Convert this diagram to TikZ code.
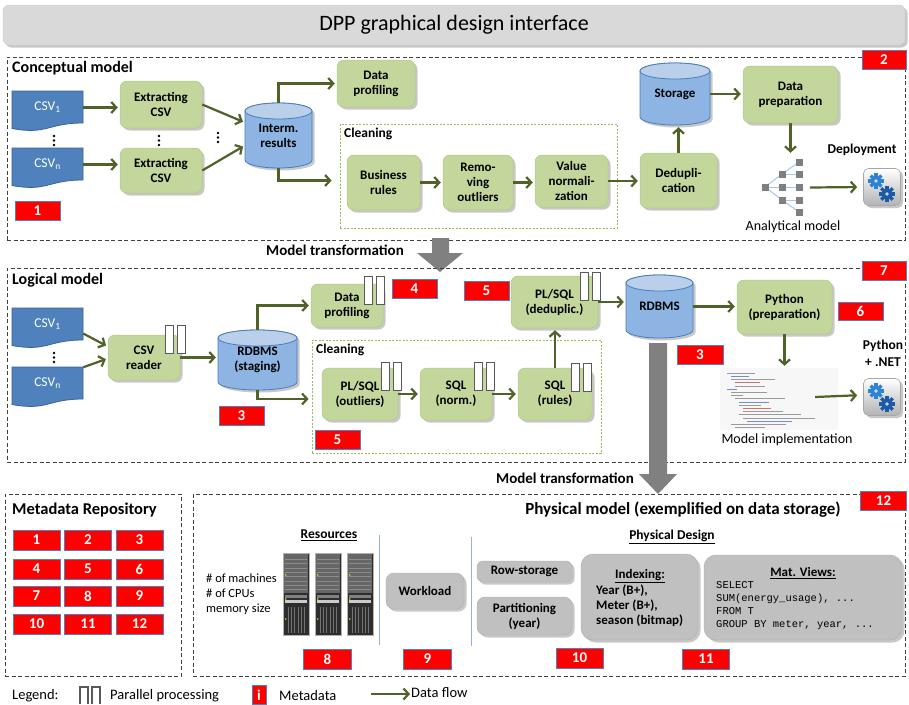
\documentclass[tikz,border=0pt]{standalone}
\usepackage{fontspec}
\setmainfont{Carlito}
\setmonofont{Liberation Mono}
\usetikzlibrary{arrows.meta,shadows,calc}

\definecolor{boxgreen}{HTML}{C3D69B}
\definecolor{boxgreenline}{HTML}{B2C886}
\definecolor{flowgreen}{HTML}{4F6228}
\definecolor{cylbody}{HTML}{8DB4E2}
\definecolor{cyltopc}{HTML}{B9CFEA}
\definecolor{cylline}{HTML}{4A7EBB}
\definecolor{docblue}{HTML}{4F81BD}
\definecolor{docline}{HTML}{3A6496}
\definecolor{tagline}{HTML}{4F81BD}
\definecolor{physgray}{HTML}{C0C0C0}
\definecolor{titlegray}{HTML}{D9D9D9}
\definecolor{framegray}{HTML}{404040}
\definecolor{cleangreen}{HTML}{9BBB59}
\definecolor{bigarrow}{HTML}{808080}
\definecolor{sepblue}{HTML}{95B3D7}
\definecolor{gearlight}{HTML}{2C83D3}
\definecolor{geardark}{HTML}{1B5AA6}
\definecolor{treeline}{HTML}{A6C8E8}
\definecolor{treesq}{HTML}{7F7F7F}
\definecolor{codegray}{HTML}{9A9A9A}
\definecolor{codeblue}{HTML}{6E8FC8}
\definecolor{codered}{HTML}{D07070}

\newcommand\fsz[2]{\fontsize{#1}{#2}\selectfont}

\tikzset{
  softshadow/.style={drop shadow={shadow xshift=2.5pt,shadow yshift=-2.5pt,opacity=0.3,fill=black!70}},
  gbox/.style={rectangle,rounded corners=7pt,fill=boxgreen,draw=boxgreenline,line width=0.5pt,
    align=center,inner sep=1pt,font=\fsz{13}{15}\bfseries,softshadow},
  graybox/.style={rectangle,rounded corners=8pt,fill=physgray,draw=physgray!90!black,line width=0.4pt,
    align=center,inner sep=1pt,font=\fsz{13}{15}\bfseries,softshadow},
  metatag/.style={rectangle,fill=red,draw=tagline,line width=0.8pt,minimum width=45pt,minimum height=19pt,
    inner sep=0pt,text=white,font=\fsz{15}{15}\bfseries},
  flowarrow/.style={draw=flowgreen,line width=2.2pt,shorten >=2pt,-{Straight Barb[length=5pt,width=11pt]}},
  sectionframe/.style={draw=framegray,line width=1pt,dash pattern=on 4pt off 2.5pt,inner sep=0pt},
  cleanframe/.style={draw=cleangreen,line width=0.9pt,dash pattern=on 2pt off 1.5pt,inner sep=0pt},
  lbl/.style={inner sep=0pt,anchor=west,font=\fsz{16}{18}\bfseries},
  cylshape/.style={fill=cylbody,draw=cylline,line width=0.8pt},
  cyltop/.style={fill=cyltopc,draw=cylline,line width=0.8pt},
  cyltext/.style={align=center,inner sep=0pt,font=\fsz{13}{15}\bfseries},
  docshape/.style={fill=docblue,draw=docline,line width=0.8pt},
  doctext/.style={inner sep=0pt,text=white,font=\fsz{13.5}{15}},
  parbar/.style={rectangle,fill=white,draw=black!65,line width=1.2pt,minimum width=8pt,minimum height=28pt,
    inner sep=0pt,anchor=north west},
  plain/.style={inner sep=0pt,font=\fsz{12.5}{15}},
  dot/.style={circle,fill=black,inner sep=0pt,minimum size=2.6pt},
  gearbox/.style={rectangle,rounded corners=5pt,minimum width=37pt,minimum height=37pt,top color=white,
    bottom color=black!30,draw=black!35,line width=0.6pt},
}

% database cylinder: name, cx, cy, width, height, half width, text
\newcommand\dbcyl[7]{%
  \coordinate (#1-c) at (#2,#3);
  \path[cylshape,softshadow] ($(#1-c)+(-#6,-#5/2+8)$) -- ($(#1-c)+(-#6,#5/2-8)$)
    arc[start angle=180,end angle=360,x radius=#6pt,y radius=8pt]
    -- ($(#1-c)+(#6,-#5/2+8)$)
    arc[start angle=0,end angle=180,x radius=#6pt,y radius=8pt] -- cycle;
  \path[cyltop] ($(#1-c)+(0,-#5/2+8)$) ellipse[x radius=#6pt,y radius=8pt];
  \node[cyltext,minimum width=#4pt,minimum height=#5pt] (#1) at (#1-c) {#7};
}

% document shape with wavy bottom: name, left x, top y, text
\newcommand\csvdoc[4]{%
  \path[docshape] (#2,#3) -- (#2+71,#3) -- (#2+71,#3+32)
    .. controls (#2+35.5,#3+32) and (#2+35.5,#3+44) .. (#2,#3+37.5) -- cycle;
  \node[doctext,minimum width=71pt,minimum height=32pt] (#1) at (#2+35.5,#3+16.5) {#4};
}

% vertical ellipsis of three dots: name, x, top y
\newcommand\vdotsmark[3]{%
  \node[dot] (#1a) at (#2,#3) {};
  \node[dot] (#1b) at (#2,#3+4.5) {};
  \node[dot] (#1c) at (#2,#3+9) {};
}

% two bars marking parallel processing: name, left x, top y
\newcommand\parbars[3]{%
  \node[parbar] (#1a) at (#2,#3) {};
  \node[parbar] (#1b) at (#2+12,#3) {};
}

% one gear wheel: cx, cy, radius, colour
\newcommand\gearwheel[4]{%
  \foreach \ang in {0,45,...,315}
    \fill[#4,rotate around={\ang:(#1,#2)}] ($(#1,#2)+(-1.7,-#3-2.6)$) rectangle ($(#1,#2)+(1.7,0)$);
  \fill[#4] (#1,#2) circle[radius=#3pt];
  \fill[white!75!#4] (#1,#2) circle[radius=1.8pt];
}

% deployment icon: name, cx, cy
\newcommand\gearicon[3]{%
  \node[gearbox,softshadow] (#1) at (#2,#3) {};
  \gearwheel{#2-6}{#3-6}{5}{gearlight}
  \gearwheel{#2+5}{#3+7}{5.5}{geardark}
}

% server tower: left x, top y
\newcommand\tower[2]{%
  \fill[black!82] (#1,#2) rectangle (#1+26,#2+82);
  \fill[black!60] (#1+1,#2+1) rectangle (#1+25,#2+40);
  \foreach \k in {1,...,8}
    \draw[black!45,line width=0.5pt] (#1+2,#2+2+\k*4.3) -- (#1+24,#2+2+\k*4.3);
  \fill[black!20] (#1+2,#2+47) rectangle (#1+24,#2+50);
  \fill[black!50] (#1+2,#2+42) rectangle (#1+24,#2+45);
  \foreach \k in {1,...,6}
    \draw[black!55,line width=0.5pt] (#1+2+\k*3.2,#2+54) -- (#1+2+\k*3.2,#2+80);
  \fill[yellow!80!green] (#1+2.8,#2+22) circle[radius=0.9pt];
  \fill[yellow!80!green] (#1+2.8,#2+46) circle[radius=0.9pt];
  \fill[yellow!80!green] (#1+2.8,#2+66) circle[radius=0.9pt];
  \draw[black!30,line width=0.8pt] (#1,#2) rectangle (#1+26,#2+82);
}

\begin{document}
\begin{tikzpicture}[x=1pt,y=-1pt]
\useasboundingbox (0,0) rectangle (909,704);
\fill[white] (0,0) rectangle (909,704);

% ---------------- title bar ----------------
\node[rectangle,rounded corners=6pt,fill=titlegray,draw=black!20,minimum width=902pt,minimum height=40pt,
  softshadow,font=\fsz{22}{24}] (title) at (454,25) {DPP graphical design interface};

% ---------------- conceptual model ----------------
\node[sectionframe,minimum width=898pt,minimum height=183pt] (concept) at (456,148.5) {};
\node[lbl] (conlbl) at (12,68) {Conceptual model};
\node[metatag,minimum width=44pt] (m2) at (884,60) {2};

\csvdoc{csvA}{12}{91}{CSV\textsubscript{1}}
\csvdoc{csvB}{12}{148}{CSV\textsubscript{n}}
\node[gbox,minimum width=82pt,minimum height=47pt] (ex1) at (161,104.5) {Extracting\\CSV};
\node[gbox,minimum width=82pt,minimum height=45pt] (ex2) at (161,170.5) {Extracting\\CSV};
\vdotsmark{dotsA}{54}{136}
\vdotsmark{dotsB}{159}{136}
\vdotsmark{dotsC}{218}{133}
\dbcyl{interm}{278.5}{135.5}{67}{65}{33.5}{Interm.\\results}
\node[gbox,minimum width=78pt,minimum height=47pt] (prof1) at (376,83.5) {Data\\profiling};

\node[cleanframe,minimum width=277pt,minimum height=104pt] (clean1) at (478.5,176) {};
\node[lbl,font=\fsz{13.5}{15}\bfseries] (cl1lbl) at (344,134) {Cleaning};
\node[gbox,minimum width=73pt,minimum height=55pt] (br) at (383.5,182.5) {Business\\rules};
\node[gbox,minimum width=70pt,minimum height=55pt] (ro) at (478,182.5) {Remo-\\ving\\outliers};
\node[gbox,minimum width=73pt,minimum height=52pt] (vn) at (571.5,181) {Value\\normali-\\zation};
\node[gbox,minimum width=77pt,minimum height=55pt] (dedup) at (678.5,180.5) {Dedupli-\\cation};
\dbcyl{storage}{675}{94}{70}{62}{35}{Storage}
\node[gbox,minimum width=95pt,minimum height=57pt] (dprep) at (790.5,94.5) {Data\\preparation};

% analytical model tree
\node[minimum width=48pt,minimum height=65pt,inner sep=0pt] (anmodel) at (784,187.5) {};
\foreach \yy in {174,187,200} \draw[treeline,line width=1pt] (765,187) -- (782,\yy);
\foreach \ya/\yb in {174/162,174/174,187/187,200/200,200/212} \draw[treeline,line width=1pt] (782,\ya) -- (799,\yb);
\foreach \xx/\yy in {765/187,782/174,782/187,782/200,799/162,799/174,799/187,799/200,799/212}
  \fill[treesq] (\xx-3.5,\yy-3.5) rectangle (\xx+3.5,\yy+3.5);
\node[plain,font=\fsz{14}{16}] (anlbl) at (793,227) {Analytical model};
\node[plain,font=\fsz{13.5}{16}\bfseries] (deplbl) at (862,150) {Deployment};
\gearicon{gearA}{882}{187}

\node[metatag] (m1) at (37.5,211) {1};

% conceptual flows
\draw[flowarrow] (csvA.east) -- (csvA.east -| ex1.west);
\draw[flowarrow] (csvB.east) -- (csvB.east -| ex2.west);
\draw[flowarrow] (ex1.east) -- ($(interm.west)+(0,-13)$);
\draw[flowarrow] (ex2.east) -- ($(interm.west)+(0,10)$);
\draw[flowarrow] (interm.north) |- (prof1.west);
\draw[flowarrow] (interm.south) |- ($(clean1.west |- br.west)+(-6,-2)$);
\draw[flowarrow] (br.east) -- (ro.west);
\draw[flowarrow] (ro.east) -- (ro.east -| vn.west);
\draw[flowarrow] (vn.east) -- (vn.east -| dedup.west);
\draw[flowarrow] (dedup.north) -- (dedup.north |- storage.south);
\draw[flowarrow] (storage.east) -- (storage.east -| dprep.west);
\draw[flowarrow] (dprep.south) -- (dprep.south |- anmodel.north);
\draw[flowarrow,shorten >=6pt] ($(anmodel.east)+(2,0)$) -- (gearA.west);

% ---------------- first model transformation ----------------
\fill[bigarrow] (432,238) -- (449,238) -- (449,253) -- (463,253) -- (440,272) -- (417,253) -- (432,253) -- cycle;
\node[plain,font=\fsz{15}{16}\bfseries] (mt1) at (335,250) {Model transformation};

% ---------------- logical model ----------------
\node[sectionframe,minimum width=898pt,minimum height=194pt] (logical) at (456,365) {};
\node[lbl] (loglbl) at (12,280) {Logical model};
\node[metatag,minimum width=44pt] (m7) at (884,271) {7};

\csvdoc{csvC}{12}{308}{CSV\textsubscript{1}}
\csvdoc{csvD}{12}{367}{CSV\textsubscript{n}}
\vdotsmark{dotsD}{54}{353}
\node[gbox,minimum width=72pt,minimum height=45pt] (reader) at (144,357.5) {CSV\\reader};
\parbars{pReader}{165}{325}
\dbcyl{staging}{257.5}{360}{79}{60}{39.5}{RDBMS\\(staging)}
\node[gbox,minimum width=72pt,minimum height=43pt] (prof2) at (347,305.5) {Data\\profiling};
\parbars{pProf}{364}{276}
\node[metatag] (m4) at (414.5,288.5) {4};
\node[metatag] (m3a) at (241.5,415.5) {3};

\node[cleanframe,minimum width=289pt,minimum height=113pt] (clean2) at (456.5,396.5) {};
\node[lbl,font=\fsz{13.5}{15}\bfseries] (cl2lbl) at (316,350) {Cleaning};
\node[gbox,minimum width=76pt,minimum height=52pt] (outl) at (360,394) {PL/SQL\\(outliers)};
\parbars{pOutl}{381}{362}
\node[gbox,minimum width=72pt,minimum height=52pt] (norm) at (456,394) {SQL\\(norm.)};
\parbars{pNorm}{474}{362}
\node[gbox,minimum width=74pt,minimum height=52pt] (rules) at (555,394) {SQL\\(rules)};
\parbars{pRules}{571}{363}
\node[metatag] (m5a) at (337.5,440) {5};

\node[gbox,minimum width=87pt,minimum height=52pt] (dedup2) at (554.5,302) {PL/SQL\\(deduplic.)};
\parbars{pDedup}{580}{272}
\node[metatag] (m5b) at (486.5,290.5) {5};
\dbcyl{rdbms}{659.5}{306.5}{67}{63}{33.5}{RDBMS}
\node[metatag,minimum width=46pt] (m3b) at (700,355) {3};
\node[gbox,minimum width=95pt,minimum height=54pt] (python) at (784.5,307) {Python\\(preparation)};
\node[metatag,minimum height=18pt] (m6) at (860.5,311) {6};

% model implementation (code listing)
\node[rectangle,fill=black!3,minimum width=118pt,minimum height=62pt,inner sep=0pt] (code) at (779,399) {};
\foreach \ind/\len/\col [count=\k] in {0/28/codegray,4/18/codeblue,4/44/codegray,8/25/codered,8/30/codegray,
  0/10/codeblue,4/36/codegray,4/12/codegray,8/50/codegray,12/30/codeblue,12/22/codegray,16/28/codered,
  16/40/codegray,12/62/codegray,16/72/codegray,20/45/codeblue,4/55/codegray,8/30/codegray}
  \draw[\col,line width=0.7pt] (727+\ind,370+\k*3.2) -- ++(\len,0);
\node[plain,font=\fsz{14}{16}] (implbl) at (787,440) {Model implementation};
\node[plain,align=center,font=\fsz{13.5}{17}\bfseries] (pynet) at (883,353) {Python\\+ .NET};
\gearicon{gearB}{882}{397}

% logical flows
\draw[flowarrow] ($(csvC.east)+(0,9)$) -- ($(reader.west)+(0,-11)$);
\draw[flowarrow] (csvD.north east) -- ($(reader.west)+(0,1)$);
\draw[flowarrow] (reader.east) -- (reader.east -| staging.west);
\draw[flowarrow] (staging.north) |- (prof2.west);
\draw[flowarrow] (staging.south) |- ($(clean2.west |- outl.west)+(-1,5)$);
\draw[flowarrow] (outl.east) -- (outl.east -| norm.west);
\draw[flowarrow] (norm.east) -- (norm.east -| rules.west);
\draw[flowarrow] (rules.north) -- (rules.north |- dedup2.south);
\draw[flowarrow] (dedup2.east) -- (dedup2.east -| rdbms.west);
\draw[flowarrow] (rdbms.east) -- (rdbms.east -| python.west);
\draw[flowarrow] (python.south) -- (python.south |- code.north);
\draw[flowarrow,shorten >=6pt] ($(code.east)+(-23,-2)$) -- ($(gearB.west)+(0,-2)$);

% ---------------- second model transformation ----------------
\fill[bigarrow] (649,343) -- (667,343) -- (667,474) -- (677,474) -- (658,494) -- (639,474) -- (649,474) -- cycle;
\node[plain,font=\fsz{15}{16}\bfseries] (mt2) at (565,478) {Model transformation};

% ---------------- metadata repository ----------------
\node[sectionframe,minimum width=176pt,minimum height=182pt] (metarepo) at (93,585) {};
\node[lbl,font=\fsz{16.5}{18}\bfseries] (metalbl) at (12,510) {Metadata Repository};
\foreach \num [count=\i from 0] in {1,...,12}{
  \pgfmathtruncatemacro\col{mod(\i,3)}
  \pgfmathtruncatemacro\row{div(\i,3)}
  \pgfmathsetmacro\cx{36.5+51.5*\col}
  \pgfmathsetmacro\cy{{540,569,596,624}[\row]}
  \node[metatag,minimum width=47pt,minimum height=20pt] (rep\num) at (\cx,\cy) {\num};
}

% ---------------- physical model ----------------
\node[sectionframe,minimum width=712pt,minimum height=182pt] (physical) at (549,585) {};
\node[plain,font=\fsz{17}{19}\bfseries] (physlbl) at (683,510) {Physical model (exemplified on data storage)};
\node[metatag,minimum width=46pt] (m12) at (883.5,501) {12};

\node[plain,font=\fsz{13.5}{16}\bfseries] (reslbl) at (329,535) {\underline{Resources}};
\tower{283}{553}
\tower{315}{553}
\tower{347}{553}
\node[plain,anchor=west,align=left,font=\fsz{12.5}{15}] (reslist) at (206,594) {\# of machines\\\# of CPUs\\memory size};
\draw[sepblue,line width=1pt] (379,535) -- (379,645);
\node[graybox,minimum width=78pt,minimum height=36pt] (workload) at (425,591) {Workload};
\node[metatag,minimum width=48pt,minimum height=20pt] (m8) at (327.5,659) {8};
\node[metatag,minimum width=48pt,minimum height=20pt] (m9) at (427.5,659) {9};
\draw[sepblue,line width=1pt] (471,537) -- (471,646);

\node[plain,font=\fsz{13.5}{16}\bfseries] (pdlbl) at (672,537) {\underline{Physical Design}};
\node[graybox,rounded corners=6pt,minimum width=95pt,minimum height=21pt] (rowst) at (524.5,571.5) {Row-storage};
\node[graybox,minimum width=95pt,minimum height=38pt] (part) at (524.5,616) {Partitioning\\(year)};
\node[graybox,rounded corners=12pt,minimum width=117pt,minimum height=86pt] (idx) at (639.5,597) {};
\node[plain,font=\fsz{13}{15}\bfseries] (idxlbl) at (640,576) {\underline{Indexing:}};
\node[plain,anchor=west,align=left,font=\fsz{13}{15}\bfseries] (idxtxt) at (596,605.5) {Year (B+),\\Meter (B+),\\season (bitmap)};
\node[graybox,rounded corners=12pt,minimum width=198pt,minimum height=85pt] (mat) at (803,597.5) {};
\node[plain,font=\fsz{13}{15}\bfseries] (matlbl) at (803,573) {\underline{Mat. Views:}};
\node[plain,anchor=west,align=left,font=\fsz{10.5}{13}\ttfamily] (mattxt) at (716,605.5)
  {SELECT\\SUM(energy\_usage), ...\\FROM T\\GROUP BY meter, year, ...};
\node[metatag,minimum width=47pt,minimum height=20pt] (m10) at (579.5,658) {10};
\node[metatag,minimum width=47pt,minimum height=20pt] (m11) at (706,659) {11};

% ---------------- legend ----------------
\node[plain,anchor=west,font=\fsz{14.5}{16}] (leg) at (12,696) {Legend:};
\fill[white] (80,687) rectangle (88,704);
\draw[black!65,line width=1.2pt] (80,704) -- (80,687) -- (88,687) -- (88,704);
\fill[white] (92,687) rectangle (100,704);
\draw[black!65,line width=1.2pt] (92,704) -- (92,687) -- (100,687) -- (100,704);
\node[plain,anchor=west,font=\fsz{14.5}{16}] (legpar) at (110,696) {Parallel processing};
\node[metatag,minimum width=14pt,minimum height=19pt] (legtag) at (259,695) {i};
\node[plain,anchor=west,font=\fsz{14.5}{16}] (legmeta) at (279,696) {Metadata};
\coordinate (legA) at (371,694);
\coordinate (legB) at (410,694);
\draw[flowarrow,shorten >=0pt] (legA) -- (legB);
\node[plain,anchor=west,font=\fsz{14.5}{16}] (legflow) at (411,693) {Data flow};
\end{tikzpicture}
\end{document}
